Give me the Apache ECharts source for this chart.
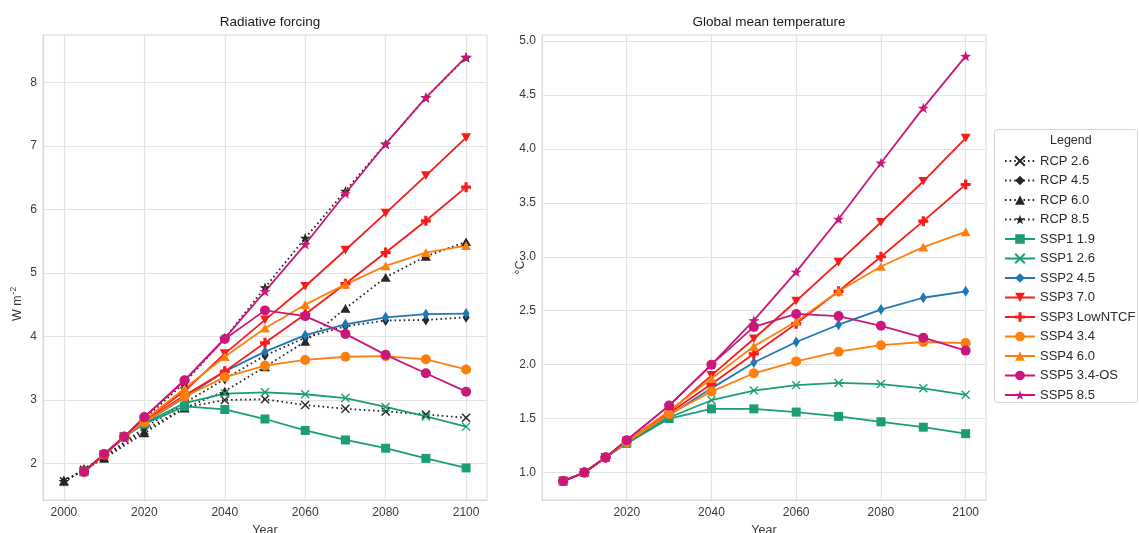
<!DOCTYPE html>
<html>
<head>
<meta charset="utf-8">
<script src="https://cdn.jsdelivr.net/npm/echarts@6/dist/echarts.min.js"></script>
<style>
  html, body { margin: 0; padding: 0; background: #fff; }
  #chart { width: 1139px; height: 533px; }
</style>
</head>
<body>
<div id="chart"></div>
<script>
// Years at which each scenario family is reported
const rcpYears = [2000, 2005, 2010, 2020, 2030, 2040, 2050, 2060, 2070, 2080, 2090, 2100];
const sspYears = [2005, 2010, 2015, 2020, 2030, 2040, 2050, 2060, 2070, 2080, 2090, 2100];

// Tick labels
const forcingTicks = [2, 3, 4, 5, 6, 7, 8];
const tempTicks = [1.0, 1.5, 2.0, 2.5, 3.0, 3.5, 4.0, 4.5, 5.0];
const yearTicksLeft = [2000, 2020, 2040, 2060, 2080, 2100];
const yearTicksRight = [2020, 2040, 2060, 2080, 2100];

// Radiative forcing, W m-2 (RCP scenarios)
const rcp26F = [1.72, 1.90, 2.10, 2.52, 2.88, 3.00, 3.01, 2.92, 2.86, 2.82, 2.77, 2.72];
const rcp45F = [1.72, 1.90, 2.11, 2.56, 2.95, 3.33, 3.70, 3.98, 4.16, 4.25, 4.26, 4.30];
const rcp60F = [1.72, 1.90, 2.08, 2.48, 2.87, 3.14, 3.52, 3.92, 4.44, 4.93, 5.26, 5.49];
const rcp85F = [1.72, 1.90, 2.13, 2.70, 3.27, 3.97, 4.77, 5.55, 6.29, 7.03, 7.76, 8.39];

// Radiative forcing, W m-2 (SSP scenarios)
const ssp119F = [1.87, 2.14, 2.42, 2.62, 2.90, 2.85, 2.70, 2.52, 2.37, 2.24, 2.08, 1.93];
const ssp126F = [1.87, 2.14, 2.42, 2.63, 2.95, 3.10, 3.12, 3.09, 3.03, 2.89, 2.74, 2.58];
const ssp245F = [1.87, 2.14, 2.42, 2.64, 3.04, 3.45, 3.76, 4.02, 4.19, 4.30, 4.35, 4.36];
const ssp370F = [1.87, 2.14, 2.42, 2.68, 3.14, 3.73, 4.26, 4.79, 5.36, 5.94, 6.53, 7.13];
const ssp3LowF = [1.87, 2.14, 2.42, 2.67, 3.07, 3.45, 3.90, 4.35, 4.83, 5.32, 5.82, 6.35];
const ssp434F = [1.87, 2.14, 2.42, 2.65, 3.05, 3.36, 3.54, 3.63, 3.68, 3.69, 3.64, 3.48];
const ssp460F = [1.87, 2.14, 2.42, 2.68, 3.18, 3.68, 4.13, 4.50, 4.82, 5.11, 5.32, 5.43];
const ssp534F = [1.87, 2.15, 2.42, 2.73, 3.31, 3.96, 4.41, 4.32, 4.04, 3.71, 3.42, 3.13];
const ssp585F = [1.87, 2.15, 2.42, 2.73, 3.31, 3.97, 4.71, 5.45, 6.25, 7.03, 7.76, 8.40];

// Global mean temperature, °C (SSP scenarios)
const ssp119T = [0.92, 1.00, 1.14, 1.27, 1.50, 1.59, 1.59, 1.56, 1.52, 1.47, 1.42, 1.36];
const ssp126T = [0.92, 1.00, 1.14, 1.27, 1.51, 1.67, 1.76, 1.81, 1.83, 1.82, 1.78, 1.72];
const ssp245T = [0.92, 1.00, 1.14, 1.28, 1.53, 1.78, 2.02, 2.21, 2.37, 2.51, 2.62, 2.68];
const ssp370T = [0.92, 1.00, 1.14, 1.29, 1.56, 1.90, 2.24, 2.59, 2.95, 3.32, 3.70, 4.10];
const ssp3LowT = [0.92, 1.00, 1.14, 1.29, 1.55, 1.82, 2.10, 2.38, 2.68, 3.00, 3.33, 3.67];
const ssp434T = [0.92, 1.00, 1.14, 1.28, 1.54, 1.75, 1.92, 2.03, 2.12, 2.18, 2.21, 2.20];
const ssp460T = [0.92, 1.00, 1.14, 1.29, 1.57, 1.87, 2.17, 2.40, 2.68, 2.91, 3.09, 3.23];
const ssp534T = [0.92, 1.00, 1.14, 1.30, 1.62, 2.00, 2.35, 2.47, 2.45, 2.36, 2.25, 2.13];
const ssp585T = [0.92, 1.00, 1.14, 1.30, 1.62, 2.00, 2.41, 2.86, 3.35, 3.87, 4.38, 4.86];

// Marker shapes
const SYM = {
  x: 'path://M0,0 L10,10 M0,10 L10,0',
  plus: 'path://M3.4,0 H6.6 V3.4 H10 V6.6 H6.6 V10 H3.4 V6.6 H0 V3.4 H3.4 Z',
  star: 'path://M5,0 L6.18,3.38 L9.76,3.45 L6.9,5.62 L7.94,9.05 L5,7 L2.06,9.05 L3.1,5.62 L0.24,3.45 L3.82,3.38 Z',
  tdown: 'path://M0,0 L10,0 L5,8.7 Z',
  tup: 'path://M5,0 L10,8.7 L0,8.7 Z'
};

const FONT = '"Liberation Sans", Arial, sans-serif';
const RCP_COLOR = '#262626';
const GREEN = '#1b9e77', BLUE = '#1f77b4', RED = '#fb1a1a', ORANGE = '#ff7f0e', MAGENTA = '#c9177b';

const scenarios = [
  { name: 'RCP 2.6', years: rcpYears, f: rcp26F, color: RCP_COLOR, symbol: SYM.x, size: 8, dotted: true, stroke: true },
  { name: 'RCP 4.5', years: rcpYears, f: rcp45F, color: RCP_COLOR, symbol: 'diamond', size: [7, 11], dotted: true },
  { name: 'RCP 6.0', years: rcpYears, f: rcp60F, color: RCP_COLOR, symbol: SYM.tup, size: 10, dotted: true },
  { name: 'RCP 8.5', years: rcpYears, f: rcp85F, color: RCP_COLOR, symbol: SYM.star, size: 11, dotted: true },
  { name: 'SSP1 1.9', years: sspYears, f: ssp119F, t: ssp119T, color: GREEN, symbol: 'rect', size: 9 },
  { name: 'SSP1 2.6', years: sspYears, f: ssp126F, t: ssp126T, color: GREEN, symbol: SYM.x, size: 8, stroke: true },
  { name: 'SSP2 4.5', years: sspYears, f: ssp245F, t: ssp245T, color: BLUE, symbol: 'diamond', size: [7, 11] },
  { name: 'SSP3 7.0', years: sspYears, f: ssp370F, t: ssp370T, color: RED, symbol: SYM.tdown, size: 10 },
  { name: 'SSP3 LowNTCF', years: sspYears, f: ssp3LowF, t: ssp3LowT, color: RED, symbol: SYM.plus, size: 10 },
  { name: 'SSP4 3.4', years: sspYears, f: ssp434F, t: ssp434T, color: ORANGE, symbol: 'circle', size: 10 },
  { name: 'SSP4 6.0', years: sspYears, f: ssp460F, t: ssp460T, color: ORANGE, symbol: SYM.tup, size: 10 },
  { name: 'SSP5 3.4-OS', years: sspYears, f: ssp534F, t: ssp534T, color: MAGENTA, symbol: 'circle', size: 10 },
  { name: 'SSP5 8.5', years: sspYears, f: ssp585F, t: ssp585T, color: MAGENTA, symbol: SYM.star, size: 11 }
];

function pairs(xs, ys) { return xs.map((x, i) => [x, ys[i]]); }

function makeSeries(s, values, axisIndex) {
  return {
    name: s.name,
    type: 'line',
    xAxisIndex: axisIndex,
    yAxisIndex: axisIndex,
    data: pairs(s.years, values),
    symbol: s.symbol,
    symbolSize: s.size,
    symbolKeepAspect: true,
    showAllSymbol: true,
    animation: false,
    lineStyle: s.dotted
      ? { color: s.color, width: 1.8, type: [1.6, 3] }
      : { color: s.color, width: 1.8 },
    itemStyle: s.stroke
      ? { color: s.color, borderColor: s.color, borderWidth: 1.4 }
      : { color: s.color, borderWidth: 0 },
    emphasis: { disabled: true }
  };
}

const series = [];
scenarios.forEach(s => series.push(makeSeries(s, s.f, 0)));
scenarios.forEach(s => { if (s.t) series.push(makeSeries(s, s.t, 1)); });

const gridLine = { show: true, lineStyle: { color: '#e3e3e3', width: 1.2 } };
const frame = { show: true, lineStyle: { color: '#d9d9d9', width: 1 } };
const tickLabel = { color: '#3a3a3a', fontSize: 12, fontFamily: FONT };
const yearFormat = v => String(Math.round(v));

const option = {
  backgroundColor: '#ffffff',
  textStyle: { fontFamily: FONT },
  title: [
    { text: 'Radiative forcing', left: 265, top: 10, textAlign: 'center',
      textStyle: { fontSize: 13.5, fontWeight: 'normal', color: '#1a1a1a', fontFamily: FONT } },
    { text: 'Global mean temperature', left: 764, top: 10, textAlign: 'center',
      textStyle: { fontSize: 13.5, fontWeight: 'normal', color: '#1a1a1a', fontFamily: FONT } }
  ],
  grid: [
    { left: 43, top: 35, width: 444, height: 465, show: true, borderColor: '#d9d9d9', borderWidth: 1,
      containLabel: false, outerBoundsMode: 'none' },
    { left: 542, top: 35, width: 444, height: 465, show: true, borderColor: '#d9d9d9', borderWidth: 1,
      containLabel: false, outerBoundsMode: 'none' }
  ],
  xAxis: [
    { type: 'value', gridIndex: 0, min: 1994.8, max: 2105.2,
      axisLine: frame, axisTick: { show: false, customValues: yearTicksLeft },
      axisLabel: Object.assign({ customValues: yearTicksLeft, margin: 7, formatter: yearFormat }, tickLabel),
      splitLine: gridLine,
      name: 'Year', nameLocation: 'middle', nameGap: 24,
      nameTextStyle: { color: '#3a3a3a', fontSize: 12.5, fontFamily: FONT } },
    { type: 'value', gridIndex: 1, min: 2000, max: 2104.8,
      axisLine: frame, axisTick: { show: false, customValues: yearTicksRight },
      axisLabel: Object.assign({ customValues: yearTicksRight, margin: 7, formatter: yearFormat }, tickLabel),
      splitLine: gridLine,
      name: 'Year', nameLocation: 'middle', nameGap: 24,
      nameTextStyle: { color: '#3a3a3a', fontSize: 12.5, fontFamily: FONT } }
  ],
  yAxis: [
    { type: 'value', gridIndex: 0, min: 1.425, max: 8.745,
      axisLine: frame, axisTick: { show: false, customValues: forcingTicks },
      axisLabel: Object.assign({ customValues: forcingTicks, margin: 6 }, tickLabel),
      splitLine: gridLine },
    { type: 'value', gridIndex: 1, min: 0.745, max: 5.056,
      axisLine: frame, axisTick: { show: false, customValues: tempTicks },
      axisLabel: Object.assign({ customValues: tempTicks, margin: 6,
        formatter: v => v.toFixed(1) }, tickLabel),
      splitLine: gridLine,
      name: '°C', nameLocation: 'middle', nameGap: 15, nameRotate: 90, nameMoveOverlap: false,
      nameTextStyle: { color: '#3a3a3a', fontSize: 12.5, fontFamily: FONT } }
  ],
  legend: {
    orient: 'vertical',
    left: 999,
    top: 149.5,
    itemWidth: 30,
    itemHeight: 12,
    itemGap: 6.5,
    selectedMode: false,
    data: scenarios.map(s => s.name),
    textStyle: { fontSize: 13, color: '#2a2a2a', fontFamily: FONT, lineHeight: 12 }
  },
  graphic: [
    { type: 'rect', left: 994, top: 129, z: -1,
      shape: { width: 143, height: 273, r: 3 },
      style: { fill: '#ffffff', stroke: '#d6d6d6', lineWidth: 1 } },
    { type: 'text', left: 1050, top: 134,
      style: { text: 'Legend', fontSize: 12.5, fill: '#2a2a2a', fontFamily: FONT } },
    { type: 'text', x: 18, y: 304, rotation: Math.PI / 2,
      style: {
        text: '{a|W m}{b|-2}',
        rich: {
          a: { fontSize: 12.5, fill: '#3a3a3a', fontFamily: FONT },
          b: { fontSize: 8.5, fill: '#3a3a3a', fontFamily: FONT, padding: [0, 0, 8, 1] }
        },
        verticalAlign: 'middle', align: 'center'
      } }
  ],
  series: series
};

const chart = echarts.init(document.getElementById('chart'), null, { renderer: 'canvas' });
chart.setOption(option);
</script>
</body>
</html>
